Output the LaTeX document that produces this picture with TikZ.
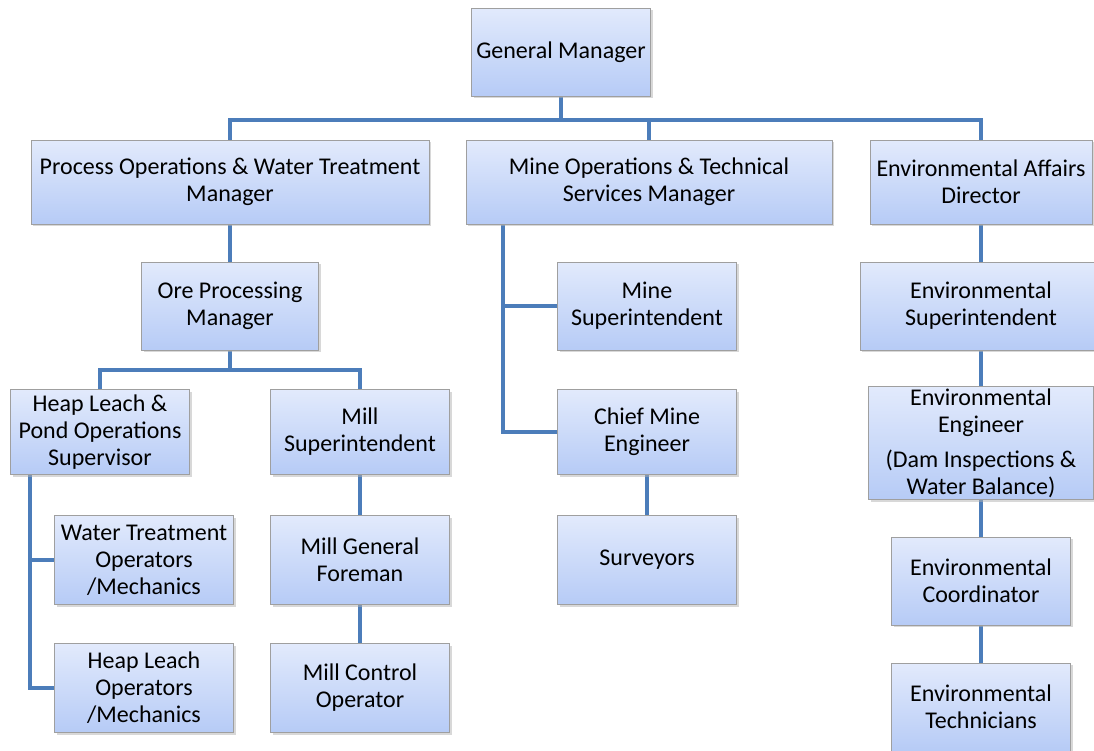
\documentclass[tikz,border=0pt]{standalone}
\usepackage{fontspec}
\setmainfont{Carlito}
\usetikzlibrary{shadows,backgrounds}
\definecolor{linkblue}{RGB}{76,125,186}
\definecolor{boxtop}{RGB}{226,234,252}
\definecolor{boxbot}{RGB}{182,203,246}
\begin{document}
\begin{tikzpicture}[x=1pt,y=-1pt,
    box/.style={rectangle, draw=gray!75, line width=0.8pt, top color=boxtop, bottom color=boxbot,
        drop shadow={shadow xshift=2pt, shadow yshift=-2pt, fill=black!30},
        align=center, inner sep=2pt, minimum width=179pt, minimum height=88pt,
        font=\fontsize{24}{27}\selectfont},
    link/.style={draw=linkblue, line width=4.5pt}]
        \useasboundingbox (0,0) rectangle (1094,750);

        \node (gm) at (561,52) [box] {General Manager};

        \node (po) at (230,182) [box, minimum width=398pt, minimum height=84pt] {Process Operations \& Water Treatment\\Manager};
        \node (mo) at (649,182) [box, minimum width=366pt, minimum height=84pt] {Mine Operations \& Technical\\Services Manager};
        \node (ead) at (981,182) [box, minimum width=222pt, minimum height=84pt] {Environmental Affairs\\Director};

        \node (ore) at (230,306) [box, minimum width=177pt] {Ore Processing\\Manager};
        \node (heap) at (100,432) [box, minimum height=85pt] {Heap Leach \&\\Pond Operations\\Supervisor};
        \node (millsup) at (360,432) [box, minimum height=85pt] {Mill\\Superintendent};
        \node (water) at (144,560) [box, minimum height=89pt] {Water Treatment\\Operators\\/Mechanics};
        \node (hlops) at (144,688) [box, minimum height=89pt] {Heap Leach\\Operators\\/Mechanics};
        \node (millgf) at (360,560) [box, minimum height=89pt] {Mill General\\Foreman};
        \node (millctl) at (360,688) [box, minimum height=89pt] {Mill Control\\Operator};

        \node (minesup) at (647,306) [box] {Mine\\Superintendent};
        \node (chief) at (647,432) [box, minimum height=85pt] {Chief Mine\\Engineer};
        \node (surv) at (647,560) [box, minimum height=89pt] {Surveyors};

        \node (envsup) at (981,306) [box, minimum width=242pt] {Environmental\\Superintendent};
        \node (enveng) at (981,443) [box, minimum width=225pt, minimum height=110pt] {Environmental\\Engineer\\[8pt](Dam Inspections \&\\Water Balance)};
        \node (envco) at (981,581) [box, minimum height=88pt] {Environmental\\Coordinator};
        \node (envtech) at (981,707) [box, minimum height=88pt] {Environmental\\Technicians};

        % bus points of the elbow lines
        \coordinate (gm_bus) at (561,120);
        \coordinate (ore_bus) at (230,370);
        \coordinate (heap_bus) at (30,475);
        \coordinate (mine_bus) at (503,224);

        \begin{pgfonlayer}{background}
        \draw[link] (gm.south) -- (gm_bus);
        \draw[link] (po.north) |- (gm_bus) -| (ead.north);
        \draw[link] (gm_bus) -| (mo.north);

        \draw[link] (po) -- (ore);
        \draw[link] (ore.south) -- (ore_bus);
        \draw[link] (heap.north) |- (ore_bus) -| (millsup.north);

        \draw[link] (heap_bus) |- (water.west);
        \draw[link] (heap_bus) |- (hlops.west);
        \draw[link] (millsup) -- (millgf) -- (millctl);

        \draw[link] (mine_bus) |- (minesup.west);
        \draw[link] (mine_bus) |- (chief.west);
        \draw[link] (chief) -- (surv);

        \draw[link] (ead) -- (envsup) -- (enveng) -- (envco) -- (envtech);
        \end{pgfonlayer}
\end{tikzpicture}
\end{document}
